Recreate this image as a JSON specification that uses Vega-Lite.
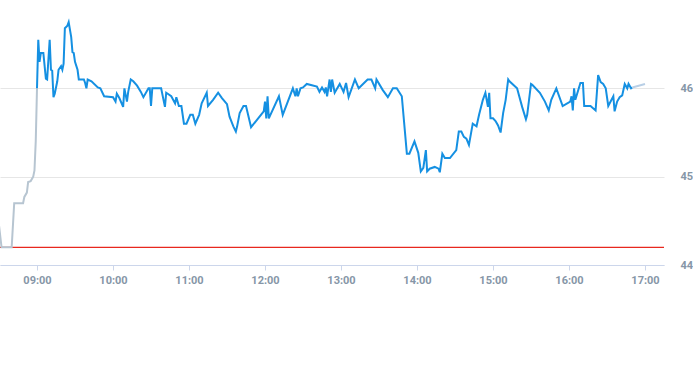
{
  "$schema": "https://vega.github.io/schema/vega-lite/v6.json",
  "width": 664,
  "height": 265,
  "padding": {"left": 0, "top": 0, "right": 29, "bottom": 100},
  "autosize": {"type": "none"},
  "background": "white",
  "config": {"view": {"stroke": null}},
  "layer": [
    {
      "data": {"values": [{"v": 44.2}]},
      "mark": {"type": "rule", "color": "#e8281e", "strokeWidth": 1.2},
      "encoding": {"y": {"field": "v", "type": "quantitative"}}
    },
    {
      "data": {
        "values": [
          {"t": "08:30", "p": 44.45, "s": "pre"},
          {"t": "08:32", "p": 44.2, "s": "pre"},
          {"t": "08:40", "p": 44.2, "s": "pre"},
          {"t": "08:42", "p": 44.7, "s": "pre"},
          {"t": "08:49", "p": 44.7, "s": "pre"},
          {"t": "08:50", "p": 44.77, "s": "pre"},
          {"t": "08:52", "p": 44.82, "s": "pre"},
          {"t": "08:53", "p": 44.94, "s": "pre"},
          {"t": "08:55", "p": 44.95, "s": "pre"},
          {"t": "08:57", "p": 45.0, "s": "pre"},
          {"t": "08:58", "p": 45.07, "s": "pre"},
          {"t": "08:59", "p": 45.4, "s": "pre"},
          {"t": "09:00", "p": 46.0, "s": "pre"},
          {"t": "09:00", "p": 46.0, "s": "main"},
          {"t": "09:01", "p": 46.55, "s": "main"},
          {"t": "09:02", "p": 46.3, "s": "main"},
          {"t": "09:03", "p": 46.4, "s": "main"},
          {"t": "09:05", "p": 46.4, "s": "main"},
          {"t": "09:07", "p": 46.11, "s": "main"},
          {"t": "09:08", "p": 46.1, "s": "main"},
          {"t": "09:10", "p": 46.55, "s": "main"},
          {"t": "09:11", "p": 46.21, "s": "main"},
          {"t": "09:12", "p": 46.2, "s": "main"},
          {"t": "09:13", "p": 45.9, "s": "main"},
          {"t": "09:14", "p": 45.94, "s": "main"},
          {"t": "09:16", "p": 46.08, "s": "main"},
          {"t": "09:17", "p": 46.21, "s": "main"},
          {"t": "09:19", "p": 46.25, "s": "main"},
          {"t": "09:20", "p": 46.21, "s": "main"},
          {"t": "09:21", "p": 46.28, "s": "main"},
          {"t": "09:22", "p": 46.68, "s": "main"},
          {"t": "09:24", "p": 46.71, "s": "main"},
          {"t": "09:25", "p": 46.75, "s": "main"},
          {"t": "09:27", "p": 46.58, "s": "main"},
          {"t": "09:28", "p": 46.41, "s": "main"},
          {"t": "09:29", "p": 46.4, "s": "main"},
          {"t": "09:30", "p": 46.3, "s": "main"},
          {"t": "09:32", "p": 46.21, "s": "main"},
          {"t": "09:33", "p": 46.1, "s": "main"},
          {"t": "09:37", "p": 46.1, "s": "main"},
          {"t": "09:38", "p": 46.06, "s": "main"},
          {"t": "09:39", "p": 46.0, "s": "main"},
          {"t": "09:40", "p": 46.1, "s": "main"},
          {"t": "09:43", "p": 46.08, "s": "main"},
          {"t": "09:48", "p": 46.01, "s": "main"},
          {"t": "09:50", "p": 46.0, "s": "main"},
          {"t": "09:53", "p": 45.91, "s": "main"},
          {"t": "10:00", "p": 45.9, "s": "main"},
          {"t": "10:02", "p": 45.85, "s": "main"},
          {"t": "10:03", "p": 45.94, "s": "main"},
          {"t": "10:05", "p": 45.89, "s": "main"},
          {"t": "10:08", "p": 45.79, "s": "main"},
          {"t": "10:09", "p": 46.0, "s": "main"},
          {"t": "10:11", "p": 45.85, "s": "main"},
          {"t": "10:12", "p": 45.96, "s": "main"},
          {"t": "10:14", "p": 46.1, "s": "main"},
          {"t": "10:16", "p": 46.08, "s": "main"},
          {"t": "10:19", "p": 46.03, "s": "main"},
          {"t": "10:22", "p": 45.96, "s": "main"},
          {"t": "10:24", "p": 45.9, "s": "main"},
          {"t": "10:28", "p": 46.0, "s": "main"},
          {"t": "10:29", "p": 46.0, "s": "main"},
          {"t": "10:30", "p": 45.8, "s": "main"},
          {"t": "10:31", "p": 46.0, "s": "main"},
          {"t": "10:38", "p": 46.0, "s": "main"},
          {"t": "10:41", "p": 45.79, "s": "main"},
          {"t": "10:42", "p": 45.95, "s": "main"},
          {"t": "10:46", "p": 45.91, "s": "main"},
          {"t": "10:49", "p": 45.83, "s": "main"},
          {"t": "10:50", "p": 45.9, "s": "main"},
          {"t": "10:52", "p": 45.8, "s": "main"},
          {"t": "10:54", "p": 45.8, "s": "main"},
          {"t": "10:56", "p": 45.6, "s": "main"},
          {"t": "10:58", "p": 45.6, "s": "main"},
          {"t": "11:01", "p": 45.7, "s": "main"},
          {"t": "11:03", "p": 45.7, "s": "main"},
          {"t": "11:05", "p": 45.6, "s": "main"},
          {"t": "11:08", "p": 45.7, "s": "main"},
          {"t": "11:10", "p": 45.83, "s": "main"},
          {"t": "11:14", "p": 45.95, "s": "main"},
          {"t": "11:15", "p": 45.8, "s": "main"},
          {"t": "11:19", "p": 45.87, "s": "main"},
          {"t": "11:23", "p": 45.95, "s": "main"},
          {"t": "11:26", "p": 45.89, "s": "main"},
          {"t": "11:30", "p": 45.82, "s": "main"},
          {"t": "11:32", "p": 45.68, "s": "main"},
          {"t": "11:35", "p": 45.57, "s": "main"},
          {"t": "11:37", "p": 45.51, "s": "main"},
          {"t": "11:38", "p": 45.57, "s": "main"},
          {"t": "11:40", "p": 45.72, "s": "main"},
          {"t": "11:43", "p": 45.8, "s": "main"},
          {"t": "11:45", "p": 45.8, "s": "main"},
          {"t": "11:49", "p": 45.56, "s": "main"},
          {"t": "11:59", "p": 45.74, "s": "main"},
          {"t": "12:00", "p": 45.85, "s": "main"},
          {"t": "12:01", "p": 45.66, "s": "main"},
          {"t": "12:02", "p": 45.91, "s": "main"},
          {"t": "12:03", "p": 45.66, "s": "main"},
          {"t": "12:11", "p": 45.91, "s": "main"},
          {"t": "12:14", "p": 45.7, "s": "main"},
          {"t": "12:18", "p": 45.85, "s": "main"},
          {"t": "12:22", "p": 46.0, "s": "main"},
          {"t": "12:24", "p": 45.91, "s": "main"},
          {"t": "12:25", "p": 46.0, "s": "main"},
          {"t": "12:26", "p": 45.91, "s": "main"},
          {"t": "12:28", "p": 46.0, "s": "main"},
          {"t": "12:30", "p": 46.01, "s": "main"},
          {"t": "12:33", "p": 46.05, "s": "main"},
          {"t": "12:41", "p": 46.02, "s": "main"},
          {"t": "12:43", "p": 45.96, "s": "main"},
          {"t": "12:45", "p": 46.01, "s": "main"},
          {"t": "12:47", "p": 45.96, "s": "main"},
          {"t": "12:48", "p": 46.01, "s": "main"},
          {"t": "12:49", "p": 45.91, "s": "main"},
          {"t": "12:51", "p": 46.1, "s": "main"},
          {"t": "12:52", "p": 45.96, "s": "main"},
          {"t": "12:53", "p": 46.1, "s": "main"},
          {"t": "12:55", "p": 45.95, "s": "main"},
          {"t": "12:59", "p": 46.05, "s": "main"},
          {"t": "13:02", "p": 45.96, "s": "main"},
          {"t": "13:04", "p": 46.06, "s": "main"},
          {"t": "13:06", "p": 45.9, "s": "main"},
          {"t": "13:11", "p": 46.1, "s": "main"},
          {"t": "13:14", "p": 46.0, "s": "main"},
          {"t": "13:21", "p": 46.1, "s": "main"},
          {"t": "13:24", "p": 46.1, "s": "main"},
          {"t": "13:27", "p": 46.0, "s": "main"},
          {"t": "13:28", "p": 46.1, "s": "main"},
          {"t": "13:33", "p": 45.98, "s": "main"},
          {"t": "13:37", "p": 45.9, "s": "main"},
          {"t": "13:41", "p": 46.0, "s": "main"},
          {"t": "13:44", "p": 46.0, "s": "main"},
          {"t": "13:48", "p": 45.91, "s": "main"},
          {"t": "13:52", "p": 45.26, "s": "main"},
          {"t": "13:54", "p": 45.26, "s": "main"},
          {"t": "13:58", "p": 45.4, "s": "main"},
          {"t": "14:01", "p": 45.27, "s": "main"},
          {"t": "14:03", "p": 45.06, "s": "main"},
          {"t": "14:05", "p": 45.1, "s": "main"},
          {"t": "14:07", "p": 45.3, "s": "main"},
          {"t": "14:08", "p": 45.06, "s": "main"},
          {"t": "14:10", "p": 45.09, "s": "main"},
          {"t": "14:14", "p": 45.11, "s": "main"},
          {"t": "14:17", "p": 45.09, "s": "main"},
          {"t": "14:18", "p": 45.05, "s": "main"},
          {"t": "14:20", "p": 45.26, "s": "main"},
          {"t": "14:22", "p": 45.21, "s": "main"},
          {"t": "14:26", "p": 45.21, "s": "main"},
          {"t": "14:31", "p": 45.3, "s": "main"},
          {"t": "14:33", "p": 45.51, "s": "main"},
          {"t": "14:35", "p": 45.51, "s": "main"},
          {"t": "14:37", "p": 45.45, "s": "main"},
          {"t": "14:39", "p": 45.43, "s": "main"},
          {"t": "14:41", "p": 45.36, "s": "main"},
          {"t": "14:44", "p": 45.6, "s": "main"},
          {"t": "14:47", "p": 45.57, "s": "main"},
          {"t": "14:49", "p": 45.7, "s": "main"},
          {"t": "14:52", "p": 45.87, "s": "main"},
          {"t": "14:54", "p": 45.95, "s": "main"},
          {"t": "14:56", "p": 45.79, "s": "main"},
          {"t": "14:57", "p": 45.95, "s": "main"},
          {"t": "14:58", "p": 45.66, "s": "main"},
          {"t": "15:00", "p": 45.66, "s": "main"},
          {"t": "15:02", "p": 45.63, "s": "main"},
          {"t": "15:04", "p": 45.58, "s": "main"},
          {"t": "15:06", "p": 45.5, "s": "main"},
          {"t": "15:08", "p": 45.72, "s": "main"},
          {"t": "15:10", "p": 45.87, "s": "main"},
          {"t": "15:12", "p": 46.1, "s": "main"},
          {"t": "15:13", "p": 46.08, "s": "main"},
          {"t": "15:19", "p": 46.0, "s": "main"},
          {"t": "15:23", "p": 45.79, "s": "main"},
          {"t": "15:26", "p": 45.65, "s": "main"},
          {"t": "15:27", "p": 45.7, "s": "main"},
          {"t": "15:30", "p": 46.05, "s": "main"},
          {"t": "15:31", "p": 46.04, "s": "main"},
          {"t": "15:37", "p": 45.95, "s": "main"},
          {"t": "15:41", "p": 45.85, "s": "main"},
          {"t": "15:44", "p": 45.75, "s": "main"},
          {"t": "15:46", "p": 45.87, "s": "main"},
          {"t": "15:50", "p": 46.0, "s": "main"},
          {"t": "15:55", "p": 45.8, "s": "main"},
          {"t": "16:01", "p": 45.85, "s": "main"},
          {"t": "16:02", "p": 45.91, "s": "main"},
          {"t": "16:03", "p": 45.75, "s": "main"},
          {"t": "16:04", "p": 46.0, "s": "main"},
          {"t": "16:05", "p": 45.87, "s": "main"},
          {"t": "16:09", "p": 46.06, "s": "main"},
          {"t": "16:11", "p": 46.06, "s": "main"},
          {"t": "16:12", "p": 45.8, "s": "main"},
          {"t": "16:17", "p": 45.8, "s": "main"},
          {"t": "16:21", "p": 45.75, "s": "main"},
          {"t": "16:23", "p": 46.15, "s": "main"},
          {"t": "16:25", "p": 46.07, "s": "main"},
          {"t": "16:27", "p": 46.05, "s": "main"},
          {"t": "16:29", "p": 46.0, "s": "main"},
          {"t": "16:31", "p": 45.8, "s": "main"},
          {"t": "16:35", "p": 45.91, "s": "main"},
          {"t": "16:36", "p": 45.74, "s": "main"},
          {"t": "16:38", "p": 45.85, "s": "main"},
          {"t": "16:40", "p": 45.9, "s": "main"},
          {"t": "16:42", "p": 45.92, "s": "main"},
          {"t": "16:44", "p": 46.05, "s": "main"},
          {"t": "16:46", "p": 46.0, "s": "main"},
          {"t": "16:47", "p": 46.05, "s": "main"},
          {"t": "16:49", "p": 46.0, "s": "main"},
          {"t": "16:50", "p": 46.01, "s": "main"},
          {"t": "16:50", "p": 46.01, "s": "post"},
          {"t": "17:00", "p": 46.05, "s": "post"}
        ],
        "format": {"parse": {"t": "utc:'%H:%M'"}}
      },
      "mark": {"type": "line", "strokeWidth": 2},
      "encoding": {
        "x": {
          "field": "t",
          "type": "temporal",
          "scale": {
            "type": "utc",
            "domain": [-2208958153000, -2208926700000]
          },
          "axis": {
            "title": null,
            "format": "%H:%M",
            "tickCount": 10,
            "grid": false,
            "domainColor": "#ccd6eb",
            "tickColor": "#ccd6eb",
            "tickSize": 5,
            "labelColor": "#8696a7",
            "labelFontWeight": "bold",
            "labelFontSize": 11,
            "labelFont": "Roboto",
            "labelPadding": 4
          }
        },
        "y": {
          "field": "p",
          "type": "quantitative",
          "scale": {"domain": [44, 47], "nice": false, "zero": false},
          "axis": {
            "title": null,
            "orient": "right",
            "values": [44, 45, 46],
            "domain": false,
            "ticks": false,
            "grid": true,
            "gridColor": "#e6e6e6",
            "labelColor": "#8696a7",
            "labelFontWeight": "bold",
            "labelFontSize": 11,
            "labelFont": "Roboto",
            "labelPadding": 16
          }
        },
        "color": {
          "field": "s",
          "type": "nominal",
          "scale": {"domain": ["pre", "main", "post"], "range": ["#b7c5d1", "#1590e2", "#b8cfe6"]},
          "legend": null
        }
      }
    }
  ]
}
